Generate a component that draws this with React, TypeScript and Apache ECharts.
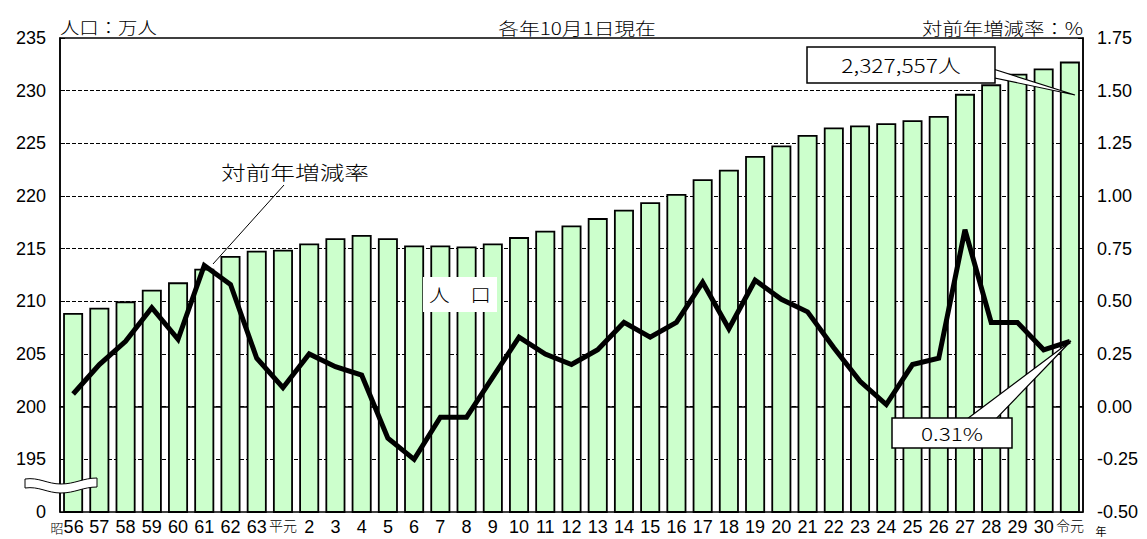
import React, { useEffect, useRef } from "react";
import * as echarts from "echarts";

const showaYears = ["昭56", "57", "58", "59", "60", "61", "62", "63"];
const heiseiYears = ["平元", "2", "3", "4", "5", "6", "7", "8", "9", "10", "11", "12", "13", "14", "15", "16", "17", "18", "19", "20", "21", "22", "23", "24", "25", "26", "27", "28", "29", "30"];
const reiwaYears = ["令元"];
const categories = [...showaYears, ...heiseiYears, ...reiwaYears];

// 人口（万人）
const population = [
  208.9, 209.4, 210.0, 211.1, 211.8, 213.1, 214.3, 214.8,
  214.9, 215.5, 216.0, 216.3, 216.0, 215.3, 215.3, 215.2, 215.5, 216.1,
  216.7, 217.2, 217.9, 218.7, 219.4, 220.2, 221.6, 222.5, 223.8, 224.8,
  225.8, 226.5, 226.7, 226.9, 227.2, 227.6, 229.7, 230.6, 231.6, 232.1,
  232.76,
];

// 対前年増減率（%）
const changeRate = [
  0.06, 0.2, 0.31, 0.47, 0.32, 0.67, 0.58, 0.23,
  0.09, 0.25, 0.19, 0.15, -0.15, -0.25, -0.05, -0.05, 0.14, 0.33,
  0.25, 0.2, 0.27, 0.4, 0.33, 0.4, 0.59, 0.37, 0.6, 0.51,
  0.45, 0.28, 0.12, 0.01, 0.2, 0.23, 0.84, 0.4, 0.4, 0.27,
  0.31,
];

const leftMin = 190;
const leftMax = 235;
const leftInterval = 5;
const rightMin = -0.5;
const rightMax = 1.75;
const rightInterval = 0.25;

const FONT = "'Liberation Sans', 'Noto Sans CJK JP', sans-serif";
const CJK = "'Noto Sans CJK JP', 'Liberation Sans', sans-serif";

echarts.graphic.registerShape(
  "breakMark",
  echarts.graphic.extendPath(
    "M0,2 C14,0 22,7 36,7 C50,7 58,1 72,1 L72,10 C58,10 50,16 36,16 C22,16 14,9 0,11 Z",
    {}
  )
);

export default function App() {
  const ref = useRef<HTMLDivElement>(null);

  useEffect(() => {
    document.body.style.margin = "0";
    document.body.style.overflow = "hidden";
    if (!ref.current) return;
    const chart = echarts.init(ref.current, null, { renderer: "svg" });

    const txt = (
      text: string,
      x: number,
      y: number,
      size: number,
      align: string,
      scaleX: number
    ) => ({
      type: "text",
      x,
      y,
      scaleX,
      z: 110,
      style: {
        text,
        fontSize: size,
        fontFamily: CJK,
        fontWeight: 300,
        fill: "#000",
        textAlign: align,
        textVerticalAlign: "middle",
      },
    });

    chart.setOption({
      animation: false,
      backgroundColor: "#fff",
      grid: {
        left: 60,
        right: 64,
        top: 38,
        bottom: 27,
        show: true,
        borderColor: "#000",
        borderWidth: 1.5,
        backgroundColor: "transparent",
      },
      xAxis: {
        type: "category",
        data: categories,
        axisLine: { show: true, lineStyle: { color: "#000", width: 1.5 } },
        axisTick: { show: false },
        axisLabel: {
          interval: 0,
          margin: 6,
          color: "#000",
          fontSize: 18,
          fontFamily: FONT,
          formatter: (v: string) => {
            if (v === "昭56") return "{s|昭}{p|56}";
            if (v === "平元" || v === "令元") return "{g|" + v + "}";
            return v;
          },
          rich: {
            s: { fontSize: 13, fontFamily: CJK, fontWeight: 300, color: "#000" },
            p: { fontSize: 18, fontFamily: FONT, color: "#000", padding: [0, 12, 0, 0] },
            g: { fontSize: 14, fontFamily: CJK, fontWeight: 300, color: "#000" },
          },
        },
      },
      yAxis: [
        {
          type: "value",
          min: leftMin,
          max: leftMax,
          interval: leftInterval,
          axisLine: { show: true, lineStyle: { color: "#000", width: 1.5 } },
          axisTick: { show: true, inside: true, length: 5, lineStyle: { color: "#000" } },
          axisLabel: {
            color: "#000",
            fontSize: 18,
            fontFamily: FONT,
            margin: 14,
            formatter: (v: number) => (v === leftMin ? "0" : String(v)),
          },
          splitLine: {
            show: true,
            showMinLine: false,
            showMaxLine: false,
            lineStyle: { color: "#000", width: 1, type: [4, 2] },
          },
        },
        {
          type: "value",
          min: rightMin,
          max: rightMax,
          interval: rightInterval,
          axisLine: { show: true, lineStyle: { color: "#000", width: 1.5 } },
          axisTick: { show: true, inside: true, length: 5, lineStyle: { color: "#000" } },
          axisLabel: {
            color: "#000",
            fontSize: 18,
            lineHeight: 18,
            fontFamily: FONT,
            margin: 14,
            formatter: (v: number) => v.toFixed(2),
          },
          splitLine: { show: false },
        },
      ],
      series: [
        {
          name: "人口",
          type: "bar",
          yAxisIndex: 0,
          data: population,
          barWidth: 20,
          itemStyle: { color: "#ccffcc", borderColor: "#000", borderWidth: 1.8 },
          z: 2,
        },
        {
          name: "対前年増減率",
          type: "line",
          yAxisIndex: 1,
          data: changeRate,
          symbol: "none",
          lineStyle: { color: "#000", width: 5, join: "miter" },
          z: 5,
        },
      ],
      graphic: [
        txt("人口：万人", 60, 27, 17, "left", 1.14),
        txt("各年10月1日現在", 577, 27, 17, "center", 1.22),
        txt("対前年増減率：%", 1083, 27, 17, "right", 1.2),
        txt("対前年増減率", 295, 171, 19, "center", 1.3),
        {
          type: "line",
          z: 105,
          shape: { x1: 284, y1: 185, x2: 213, y2: 264 },
          style: { stroke: "#000", lineWidth: 1 },
        },
        {
          type: "rect",
          z: 105,
          shape: { x: 423, y: 277, width: 74, height: 35 },
          style: { fill: "#fff", stroke: null },
        },
        txt("人　口", 460, 295, 18, "center", 1.15),
        {
          type: "polygon",
          z: 104,
          shape: { points: [[990, 68], [1075, 95], [990, 77]] },
          style: { fill: "#fff", stroke: "#000", lineWidth: 1.2 },
        },
        {
          type: "rect",
          z: 105,
          shape: { x: 807, y: 47, width: 188, height: 36 },
          style: { fill: "#fff", stroke: "#000", lineWidth: 1.5 },
        },
        txt("2,327,557人", 901, 65, 19, "center", 1.2),
        {
          type: "polygon",
          z: 104,
          shape: { points: [[963, 422], [1071, 341], [993, 422]] },
          style: { fill: "#fff", stroke: "#000", lineWidth: 1.2 },
        },
        {
          type: "rect",
          z: 105,
          shape: { x: 892, y: 418, width: 120, height: 30 },
          style: { fill: "#fff", stroke: "#000", lineWidth: 1.5 },
        },
        txt("0.31%", 952, 433, 18, "center", 1.25),
        {
          type: "breakMark",
          z: 110,
          x: 25,
          y: 477,
          style: { fill: "#fff", stroke: "#000", lineWidth: 1 },
        },
        {
          type: "text",
          z: 110,
          x: 1101,
          y: 531,
          style: {
            text: "年",
            fontSize: 11,
            lineHeight: 11,
            fontFamily: CJK,
            fill: "#000",
            textAlign: "center",
            textVerticalAlign: "middle",
          },
        },
      ],
    });

    return () => chart.dispose();
  }, []);

  return <div ref={ref} style={{ width: 1147, height: 539 }} />;
}
